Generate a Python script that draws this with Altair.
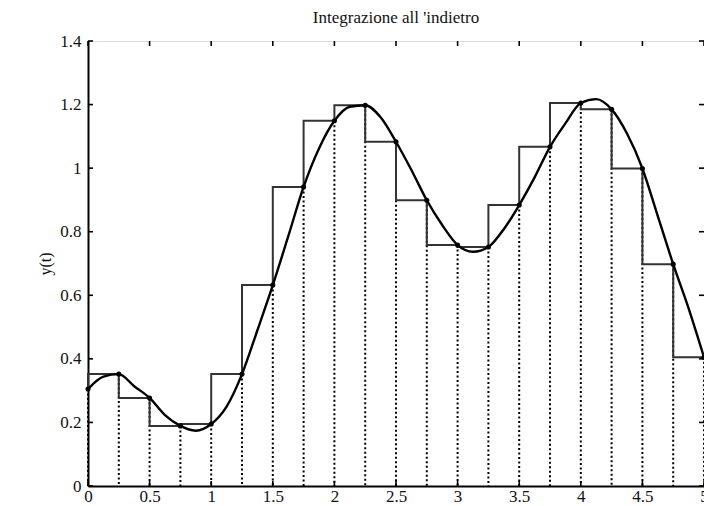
import altair as alt
import pandas as pd

# Continuous response y(t), read at 0.125 steps
curve_t = [0, 0.125, 0.25, 0.375, 0.5, 0.625, 0.75, 0.875, 1.0, 1.125,
           1.25, 1.375, 1.5, 1.625, 1.75, 1.875, 2.0, 2.125, 2.25, 2.375,
           2.5, 2.625, 2.75, 2.875, 3.0, 3.125, 3.25, 3.375, 3.5, 3.625,
           3.75, 3.875, 4.0, 4.125, 4.25, 4.375, 4.5, 4.625, 4.75, 4.875, 5.0]
curve_y = [0.305, 0.344, 0.352, 0.314, 0.277, 0.223, 0.189, 0.174, 0.195, 0.25,
           0.352, 0.49, 0.632, 0.785, 0.941, 1.062, 1.149, 1.193, 1.198, 1.16,
           1.083, 0.994, 0.899, 0.821, 0.758, 0.737, 0.752, 0.808, 0.884, 0.971,
           1.067, 1.141, 1.205, 1.217, 1.185, 1.109, 0.999, 0.849, 0.698, 0.559, 0.405]

# Samples every 0.25 (backward rectangles use y at the right end)
sample_t = [0, 0.25, 0.5, 0.75, 1.0, 1.25, 1.5, 1.75, 2.0, 2.25, 2.5,
            2.75, 3.0, 3.25, 3.5, 3.75, 4.0, 4.25, 4.5, 4.75, 5.0]
sample_y = [0.305, 0.352, 0.277, 0.189, 0.195, 0.352, 0.632, 0.941, 1.149, 1.198, 1.083,
            0.899, 0.758, 0.752, 0.884, 1.067, 1.205, 1.185, 0.999, 0.698, 0.405]

x_ticks = [0, 0.5, 1, 1.5, 2, 2.5, 3, 3.5, 4, 4.5, 5]
y_ticks = [0, 0.2, 0.4, 0.6, 0.8, 1.0, 1.2, 1.4]

W, H = 616, 445
FONT = "Liberation Serif"
FS = 17

curve_df = pd.DataFrame({"t": curve_t, "y": curve_y})
samp_df = pd.DataFrame({"t": sample_t, "y": sample_y})
xt_df = pd.DataFrame({"v": x_ticks})
yt_df = pd.DataFrame({"v": y_ticks})

xs = alt.Scale(domain=[0, 5], nice=False, zero=False)
ys = alt.Scale(domain=[0, 1.4], nice=False)

x_axis = alt.Axis(values=x_ticks, format="~g", ticks=False, grid=False,
                  domainColor="black", domainWidth=2, labelFont=FONT,
                  labelFontSize=FS, labelColor="#111111", labelPadding=2,
                  labelFlush=False, labelOverlap=False, title=None)
y_axis = alt.Axis(values=y_ticks, format="~g", ticks=False, grid=False,
                  domainColor="black", domainWidth=2, labelFont=FONT,
                  labelFontSize=FS, labelColor="#111111", labelPadding=7,
                  labelFlush=False, labelOverlap=False,
                  title="y(t)", titleFont=FONT, titleFontSize=FS - 1,
                  titleFontWeight="normal", titleColor="#111111", titlePadding=6)

dotted = alt.Chart(samp_df).mark_rule(
    color="black", strokeWidth=2, strokeDash=[2, 2.5]
).encode(
    x=alt.X("t:Q", scale=xs, axis=x_axis),
    y=alt.Y("y:Q", scale=ys, axis=y_axis),
    y2=alt.datum(0),
)

stairs = alt.Chart(samp_df).mark_line(
    interpolate="step-before", color="#333333", strokeWidth=2
).encode(x=alt.X("t:Q", scale=xs), y=alt.Y("y:Q", scale=ys))

curve = alt.Chart(curve_df).mark_line(
    interpolate="monotone", color="black", strokeWidth=2.4
).encode(x=alt.X("t:Q", scale=xs), y=alt.Y("y:Q", scale=ys))

pts = alt.Chart(samp_df).mark_circle(size=26, color="black", opacity=1).encode(
    x=alt.X("t:Q", scale=xs), y=alt.Y("y:Q", scale=ys)
)

TL = 5
tick_bottom = alt.Chart(xt_df).mark_rule(color="black", strokeWidth=1.6).encode(
    x=alt.X("v:Q", scale=xs), y=alt.value(H), y2=alt.value(H - TL))
tick_top = alt.Chart(xt_df).mark_rule(color="black", strokeWidth=1.6).encode(
    x=alt.X("v:Q", scale=xs), y=alt.value(0), y2=alt.value(TL))
tick_left = alt.Chart(yt_df).mark_rule(color="black", strokeWidth=1.6).encode(
    y=alt.Y("v:Q", scale=ys), x=alt.value(0), x2=alt.value(TL))
tick_right = alt.Chart(yt_df).mark_rule(color="black", strokeWidth=1.6).encode(
    y=alt.Y("v:Q", scale=ys), x=alt.value(W), x2=alt.value(W - TL))

chart = alt.layer(
    dotted, stairs, curve, pts, tick_bottom, tick_top, tick_left, tick_right
).properties(
    width=W, height=H,
    title=alt.TitleParams("Integrazione all 'indietro", font=FONT, fontSize=FS,
                          fontWeight="normal", color="#111111", anchor="middle",
                          offset=5),
    padding={"left": 88, "top": 41, "right": 0, "bottom": 20},
    autosize=alt.AutoSizeParams(type="none"),
).configure_view(stroke="black", strokeWidth=2).configure(background="white")

chart.save("out.html", embed_options={"renderer": "svg", "actions": False})
